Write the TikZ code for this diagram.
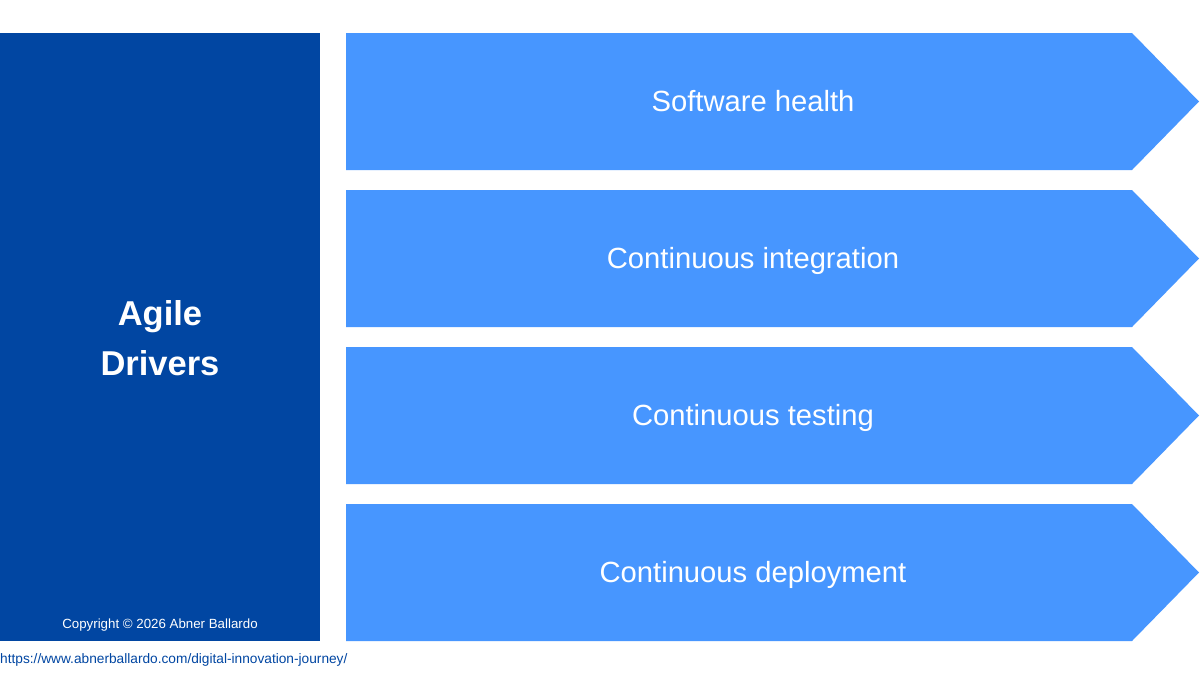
\documentclass[tikz,border=0pt]{standalone}
\usepackage{fontspec}
\setmainfont{Liberation Sans}
\definecolor{darkb}{HTML}{0146A2}
\definecolor{lightb}{HTML}{4796FF}
\begin{document}
\begin{tikzpicture}[x=1pt,y=-1pt,
  chev/.style={fill=lightb,draw=none},
  lbl/.style={text=white,font=\fontsize{29.2}{32}\selectfont,anchor=base,inner sep=0},
]
\useasboundingbox (0,0) rectangle (1200,675);
\fill[white] (0,0) rectangle (1200,675);
\fill[darkb] (0,33) rectangle (320,641);
\node[text=white,font=\bfseries\fontsize{34.5}{50}\selectfont,align=center,inner sep=0] (title) at (160,338) {Agile\\Drivers};
\node[text=white,font=\fontsize{13.3}{15}\selectfont,inner sep=0] (copy) at (160,625) {Copyright © 2026 Abner Ballardo};
\node[text=darkb,font=\fontsize{13.7}{15}\selectfont,inner sep=0,anchor=west] (url) at (0,659.5) {https://www.abnerballardo.com/digital-innovation-journey/};
\foreach \t/\txt/\n in {33/Software health/a,190/Continuous integration/b,347/Continuous testing/c,504/Continuous deployment/d}{
  \fill[chev] (346,\t) -- (1132,\t) -- (1199,\t+68.5) -- (1132,\t+137) -- (346,\t+137) -- cycle;
  \node[lbl] (\n) at (753,\t+78.5) {\txt};
}
\end{tikzpicture}
\end{document}
